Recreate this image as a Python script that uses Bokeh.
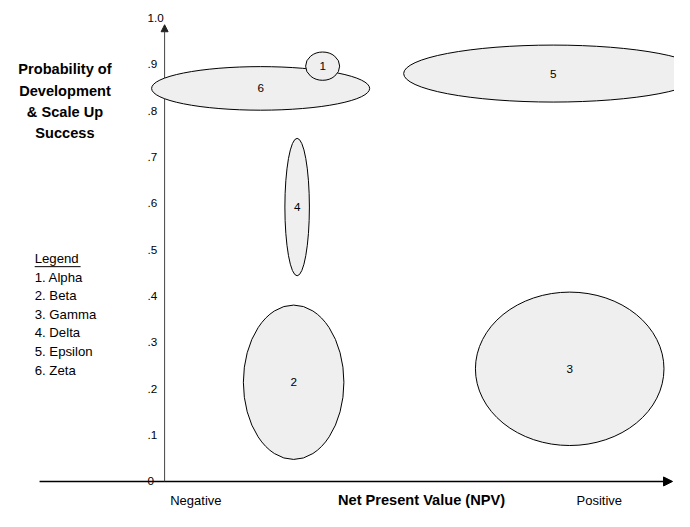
from bokeh.plotting import figure
from bokeh.models import ColumnDataSource, Range1d, Arrow, NormalHead
from bokeh.core.properties import value
from bokeh.embed import file_html
from bokeh.resources import INLINE

# ---- data ----
project_ids = ["1", "2", "3", "4", "5", "6"]
project_names = ["Alpha", "Beta", "Gamma", "Delta", "Epsilon", "Zeta"]
npv = [3.16, 2.58, 8.10, 2.65, 7.77, 1.92]            # NPV position (arbitrary units, 0 = left edge)
npv_spread = [0.68, 2.01, 3.77, 0.49, 5.98, 4.36]     # width of uncertainty
prob = [0.896, 0.214, 0.243, 0.592, 0.880, 0.848]     # probability of success
prob_spread = [0.061, 0.333, 0.331, 0.297, 0.123, 0.094]

prob_ticks = [0.0, 0.1, 0.2, 0.3, 0.4, 0.5, 0.6, 0.7, 0.8, 0.9, 1.0]
prob_tick_labels = ["0", ".1", ".2", ".3", ".4", ".5", ".6", ".7", ".8", ".9", "1.0"]

y_title_lines = ["Probability of", "Development", "& Scale Up", "Success"]
x_title = "Net Present Value (NPV)"
x_end_labels = ["Negative", "Positive"]
legend_title = "Legend"

# ---- layout helpers (reference-pixel layout -> data) ----
FONT = value("Liberation Sans")
W, H = 674, 511
REF_W, REF_H = 690, 527
def ux(px):
    return (px - 168) / 51.2
def vy(py):
    return (496 - py) / 478

p = figure(width=W, height=H, output_backend="svg", toolbar_location=None,
           x_range=Range1d(ux(0), ux(REF_W)), y_range=Range1d(vy(REF_H), vy(0)),
           x_axis_type=None, y_axis_type=None, min_border=0,
           outline_line_color=None, background_fill_color="white")
p.grid.visible = False

# axes
p.add_layout(Arrow(end=NormalHead(size=9, fill_color="black", line_color="black"),
                   x_start=ux(40), y_start=0, x_end=ux(688), y_end=0,
                   line_color="black", line_width=1.5, level="underlay"))
p.add_layout(Arrow(end=NormalHead(size=7, fill_color="#222222", line_color="#222222"),
                   x_start=0, y_start=0, x_end=0, y_end=vy(25),
                   line_color="#444444", line_width=1, level="underlay"))

# tick labels on probability axis
tick_src = ColumnDataSource(dict(x=[0] * len(prob_ticks), y=prob_ticks, t=prob_tick_labels))
p.text(x="x", y="y", text="t", source=tick_src, x_offset=-17, text_align="left",
       text_baseline="alphabetic", text_font=FONT, text_font_size="11.7px", text_color="black")

# ellipses (drawn in reverse so project 1 lies on top)
order = list(range(len(project_ids)))[::-1]
for i in order:
    src = ColumnDataSource(dict(x=[npv[i]], y=[prob[i]], w=[npv_spread[i]],
                                h=[prob_spread[i]], lab=[project_ids[i]]))
    p.ellipse(x="x", y="y", width="w", height="h", source=src,
              fill_color="#efefef", line_color="black", line_width=1)
    p.text(x="x", y="y", text="lab", source=src, text_align="center",
           text_baseline="middle", text_font=FONT, text_font_size="11.7px",
           text_color="black")

# y title
p.text(x=[ux(66)] * 4, y=[vy(71), vy(93), vy(115), vy(137)], text=y_title_lines,
       text_align="center", text_baseline="middle", text_font=FONT,
       text_font_size="14.6px", text_font_style="bold", text_color="black")

# legend block
legend_lines = [legend_title] + [f"{a}. {b}" for a, b in zip(project_ids, project_names)]
legend_y = [vy(266 + k * 19.2) for k in range(len(legend_lines))]
p.text(x=[ux(35)] * len(legend_lines), y=legend_y, text=legend_lines,
       text_align="left", text_baseline="middle", text_font=FONT,
       text_font_size="13.2px", text_color="black")
p.segment(x0=[ux(35)], y0=[vy(274.5)], x1=[ux(82)], y1=[vy(274.5)],
          line_color="black", line_width=1)

# x title and end labels
p.text(x=[ux(431)], y=[vy(515)], text=[x_title], text_align="center",
       text_baseline="alphabetic", text_font=FONT, text_font_size="14.6px",
       text_font_style="bold", text_color="black")
p.text(x=[ux(200), ux(613)], y=[vy(515.5), vy(515.5)], text=x_end_labels,
       text_align="center", text_baseline="alphabetic", text_font=FONT,
       text_font_size="13px", text_color="black")

open("out.html", "w").write(file_html(p, INLINE))
